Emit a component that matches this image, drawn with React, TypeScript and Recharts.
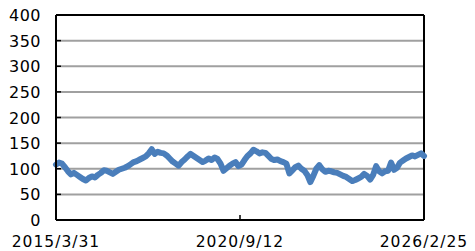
import React from 'react';
import { LineChart, Line, XAxis, YAxis, CartesianGrid, ReferenceLine } from 'recharts';

// index values (roughly one point every 3px)
const values: number[] = [
  108, 112, 110, 103, 95, 89, 92, 88, 84, 80, 77, 82, 85, 83, 88, 92, 97, 96, 93, 90,
  94, 98, 100, 102, 105, 109, 113, 115, 118, 121, 124, 130, 138, 129, 133, 131, 130, 126, 120, 114,
  110, 106, 113, 118, 124, 129, 125, 121, 117, 113, 116, 120, 117, 122, 119, 110, 96, 101, 106, 110,
  113, 105, 108, 117, 125, 130, 137, 134, 130, 132, 131, 125, 119, 117, 118, 115, 113, 110, 91, 97,
  103, 106, 100, 96, 88, 74, 86, 100, 107, 99, 94, 96, 95, 93, 92, 89, 86, 84, 80, 76,
  78, 81, 84, 90, 86, 79, 88, 105, 95, 91, 95, 96, 112, 98, 102, 112, 116, 120, 123, 126,
  124, 127, 130, 125,
];

const tickLabels = ['2015/3/31', '2020/9/12', '2026/2/25'];
const yTicks = [0, 50, 100, 150, 200, 250, 300, 350, 400];

const data = values.map((v, i) => ({ i, v }));
const last = values.length - 1;
const xTicks = [0, last / 2, last];

const YTick = (props: any) => {
  const { x, y, payload } = props;
  return (
    <g>
      <line x1={x} x2={x + 5} y1={y} y2={y} stroke="#000" strokeWidth={1.5} />
      <text
        x={x - 15}
        y={y}
        dy={6}
        textAnchor="end"
        fontFamily="DejaVu Sans"
        fontSize={16}
        letterSpacing={0.5}
        fill="#000"
      >
        {payload.value}
      </text>
    </g>
  );
};

const XTick = (props: any) => {
  const { x, y, index } = props;
  return (
    <g>
      <line x1={x} x2={x} y1={y} y2={y - 5} stroke="#000" strokeWidth={1.5} />
      <text
        x={x}
        y={y + 27}
        textAnchor="middle"
        fontFamily="DejaVu Sans"
        fontSize={15.5}
        letterSpacing={1}
        fill="#000"
      >
        {tickLabels[index]}
      </text>
    </g>
  );
};

export default function App() {
  return (
    <div style={{ position: 'absolute', left: 0, top: 0, background: '#fff' }}>
      <LineChart
        width={475}
        height={251}
        data={data}
        margin={{ top: 15, right: 51, bottom: 0, left: 0 }}
      >
        <CartesianGrid vertical={false} stroke="#a0a0a0" strokeWidth={2} />
        <XAxis
          dataKey="i"
          type="number"
          domain={[0, last]}
          ticks={xTicks}
          height={31}
          tickSize={0}
          tickMargin={0}
          tickLine={false}
          axisLine={{ stroke: '#000', strokeWidth: 2 }}
          tick={<XTick />}
          interval={0}
        />
        <YAxis
          domain={[0, 400]}
          ticks={yTicks}
          width={56}
          tickSize={0}
          tickMargin={0}
          tickLine={false}
          axisLine={{ stroke: '#000', strokeWidth: 2 }}
          tick={<YTick />}
          interval={0}
        />
        <ReferenceLine y={400} stroke="#000" strokeWidth={2} />
        <ReferenceLine x={last} stroke="#000" strokeWidth={2} />
        <Line
          dataKey="v"
          stroke="#4a7ebb"
          strokeWidth={6}
          strokeLinejoin="round"
          strokeLinecap="round"
          dot={false}
          isAnimationActive={false}
        />
      </LineChart>
    </div>
  );
}
